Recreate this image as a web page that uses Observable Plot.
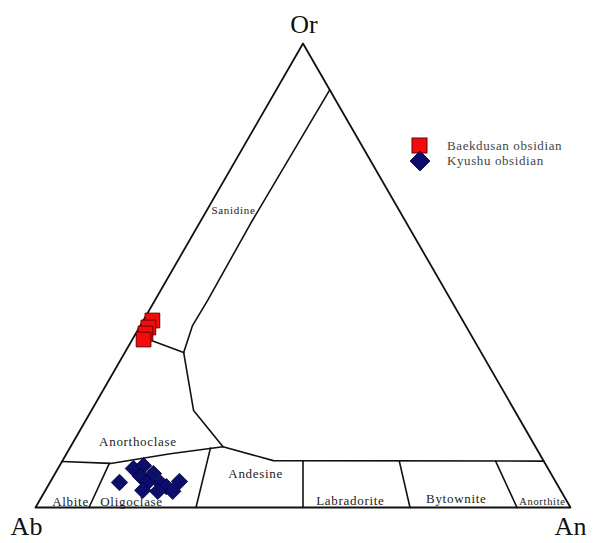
<!DOCTYPE html>
<html>
<head>
<meta charset="utf-8">
<script src="https://cdn.jsdelivr.net/npm/d3@7"></script>
<script src="https://cdn.jsdelivr.net/npm/@observablehq/plot@0.6"></script>
<style>
  body { margin: 0; background: #fff; }
  #wrap { position: relative; width: 593px; height: 543px; }
  #legend { position: absolute; left: 0; top: 0; pointer-events: none; }
</style>
</head>
<body>
<div id="wrap"></div>
<script>
// Ternary compositions given as [An, Or] in percent (Ab = 100 - An - Or)
const outline = [[0, 0], [100, 0], [0, 100], [0, 0]];
const sanidineBoundary = [[10, 90], [9.6, 61.2], [9.85, 44.6], [9.75, 39.2], [11, 33.4]];
const sanidineAnorthoclase = [[0, 37.3], [11, 33.4]];
const anorthoclaseRight = [[11, 33.4], [19.1, 20.9], [28.5, 13.1]];
const anorthoclaseBottom = [[0, 9.9], [9.3, 9.5], [19.4, 11.6], [28.5, 13.1]];
const plagioclaseTop = [[28.5, 13.1], [39.4, 10.1], [90, 10]];
const albiteOligoclase = [[10, 0], [9.05, 9.5]];
const oligoclaseAndesine = [[30, 0], [26.3, 12.8]];
const andesineLabradorite = [[50, 0], [45, 10]];
const labradoriteBytownite = [[70, 0], [63, 10]];
const bytowniteAnorthite = [[90, 0], [81, 10]];

// Samples [An, Or]
const baekdusan = [[1.7, 40.3], [1.7, 38.8], [1.8, 37.5], [2.1, 36.2]];
const kyushu = [
  [13.0, 5.4], [14.1, 8.4], [15.7, 9.0], [16.3, 6.7], [18.3, 5.6], [18.2, 3.7],
  [18.4, 7.3], [20.8, 5.2], [22.2, 4.5], [23.9, 3.5], [24.1, 5.6], [21.1, 3.5]
];

// Field labels
const fieldNames = ["Sanidine", "Anorthoclase", "Andesine", "Albite", "Oligoclase", "Labradorite", "Bytownite", "Anorthite"];
const fieldAn = [5.0, 12.05, 37.5, 5.9, 17.3, 58.1, 77.7, 94.1];
const fieldOr = [64.0, 14.2, 7.3, 1.3, 1.3, 1.5, 1.9, 1.3];

const apexNames = ["Ab", "An", "Or"];
const apexAn = [0, 100, 0];
const apexOr = [0, 0, 100];

const seriesNames = ["Baekdusan obsidian", "Kyushu obsidian"];

const tx = d => d[0] + d[1] / 2;
const ty = d => d[1];

const boundaries = [sanidineBoundary, sanidineAnorthoclase, anorthoclaseRight, anorthoclaseBottom,
  plagioclaseTop, albiteOligoclase, oligoclaseAndesine, andesineLabradorite, labradoriteBytownite, bytowniteAnorthite];

const fields = fieldNames.map((name, i) => ({name, An: fieldAn[i], Or: fieldOr[i]}));
const apices = apexNames.map((name, i) => ({name, An: apexAn[i], Or: apexOr[i]}));
const apexOffset = {Ab: [-9, 19], An: [0, 19], Or: [1, -19]};

const serif = "'Liberation Serif', 'Times New Roman', serif";

const plot = Plot.plot({
  width: 593,
  height: 543,
  margin: 0,
  style: {background: "#fff", fontFamily: serif},
  x: {domain: [0, 100], range: [35, 570], axis: null},
  y: {domain: [0, 100], range: [507, 43], axis: null},
  marks: [
    ...boundaries.map(b => Plot.line(b, {x: tx, y: ty, stroke: "#111", strokeWidth: 1.6})),
    Plot.line(outline, {x: tx, y: ty, stroke: "#111", strokeWidth: 1.8}),
    Plot.dot(baekdusan, {x: tx, y: ty, symbol: "square", r: 8.3, fill: "#f20c0c", stroke: "#6b0000", strokeWidth: 1}),
    Plot.dot(kyushu, {x: tx, y: ty, symbol: "diamond2", r: 7.4, fill: "#0d0d6e", stroke: "#000030", strokeWidth: 0.8}),
    Plot.text(fields, {
      x: d => d.An + d.Or / 2, y: d => d.Or, text: "name",
      fontSize: d => d.name === "Sanidine" ? 11 : d.name === "Anorthite" ? 10.5 : 13,
      fill: "#222"
    }),
    ...apices.map(a => Plot.text([a], {
      x: d => d.An + d.Or / 2, y: d => d.Or, text: "name",
      fontSize: 26, fill: "#111",
      dx: apexOffset[a.name][0], dy: apexOffset[a.name][1]
    }))
  ]
});

const wrap = document.getElementById("wrap");
wrap.appendChild(plot);

// letter spacing for the small labels
plot.querySelectorAll("text").forEach(t => {
  const fs = parseFloat(getComputedStyle(t).fontSize);
  if (fs < 20) t.style.letterSpacing = "0.7px";
});

// Legend
const leg = d3.select(wrap).append("svg").attr("id", "legend").attr("width", 593).attr("height", 543);
leg.append("rect").attr("x", 412).attr("y", 138).attr("width", 15).attr("height", 15)
  .attr("fill", "#f20c0c").attr("stroke", "#6b0000").attr("stroke-width", 1);
leg.append("path").attr("d", "M420,151 L430,161 L420,171 L410,161 Z")
  .attr("fill", "#0d0d6e").attr("stroke", "#000030").attr("stroke-width", 0.8);
leg.selectAll("text.lab").data(seriesNames).join("text")
  .attr("class", "lab")
  .attr("x", 447)
  .attr("y", (d, i) => i === 0 ? 149.5 : 165)
  .attr("font-family", serif)
  .attr("font-size", 13)
  .attr("letter-spacing", "0.6px")
  .attr("fill", "#444")
  .text(d => d);
</script>
</body>
</html>
